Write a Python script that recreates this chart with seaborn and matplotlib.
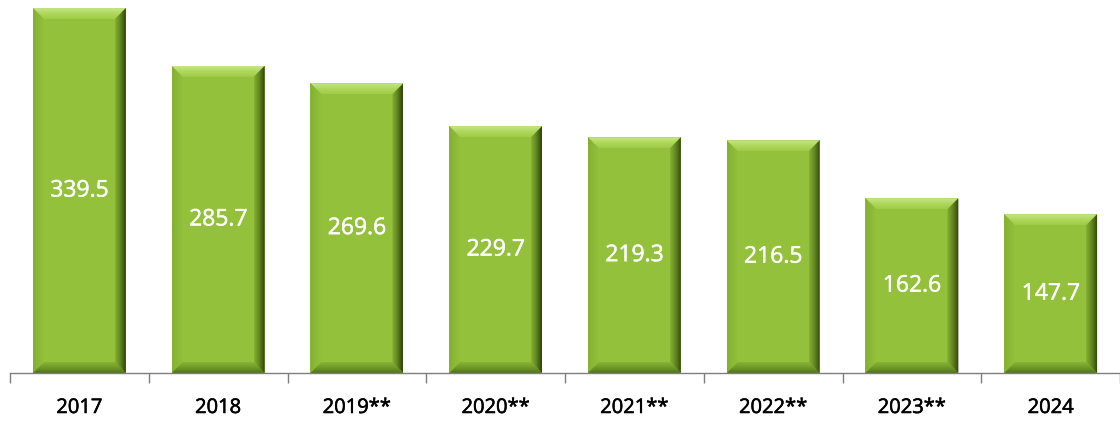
import numpy as np
import pandas as pd
import matplotlib
matplotlib.use("Agg")
import matplotlib.pyplot as plt
import matplotlib.patheffects as pe
from matplotlib.patches import Polygon
from matplotlib.colors import LinearSegmentedColormap
import seaborn as sns

years = ["2017", "2018", "2019**", "2020**", "2021**", "2022**", "2023**", "2024"]
values = [339.5, 285.7, 269.6, 229.7, 219.3, 216.5, 162.6, 147.7]

FACE = "#94c13c"

sns.set_theme(style="white")
plt.rcParams["font.family"] = ["Open Sans", "DejaVu Sans"]

fig = plt.figure(figsize=(11.2, 4.25), dpi=100)
ax = fig.add_axes([10 / 1120, 52 / 425, 1 - 10 / 1120, 373 / 425])

df = pd.DataFrame({"year": years, "value": values})
sns.barplot(data=df, x="year", y="value", color=FACE, saturation=1,
            width=0.67, ax=ax, linewidth=0, zorder=2)

ax.set_xlim(-0.5, len(years) - 0.5)
ax.set_ylim(0, 347)

# Bevelled edges on each bar, sized in pixels
fig.canvas.draw()
bev = 11.0
inv = ax.transData.inverted()


def gradient_poly(poly_pts, colors, direction):
    poly = Polygon(poly_pts, closed=True, facecolor="none", edgecolor="none", zorder=3)
    ax.add_patch(poly)
    xs = [p[0] for p in poly_pts]
    ys = [p[1] for p in poly_pts]
    cmap = LinearSegmentedColormap.from_list("b", colors)
    if direction == "h":
        grad = np.linspace(0, 1, 64).reshape(1, -1)
    else:
        grad = np.linspace(0, 1, 64).reshape(-1, 1)
    im = ax.imshow(grad, cmap=cmap, extent=(min(xs), max(xs), min(ys), max(ys)),
                   origin="lower", aspect="auto", zorder=3, interpolation="bilinear")
    im.set_clip_path(poly)


for bar in ax.patches[:len(values)]:
    x0, y0 = bar.get_x(), bar.get_y()
    x1, y1 = x0 + bar.get_width(), y0 + bar.get_height()
    (px0, py0), (px1, py1) = ax.transData.transform([(x0, y0), (x1, y1)])
    ix0, iy0 = inv.transform((px0 + bev, py0 + bev))
    ix1, iy1 = inv.transform((px1 - bev, py1 - bev))
    # top bevel (light)
    gradient_poly([(x0, y1), (x1, y1), (ix1, iy1), (ix0, iy1)],
                  ["#9fcb48", "#aed85c", "#c4e68a"], "v")
    # left bevel
    gradient_poly([(x0, y0), (ix0, iy0), (ix0, iy1), (x0, y1)],
                  ["#84b032", "#93c03c"], "h")
    # bottom bevel (darker)
    gradient_poly([(x0, y0), (x1, y0), (ix1, iy0), (ix0, iy0)],
                  ["#52721a", "#6f9a2a", "#88b434"], "v")
    # right bevel (dark)
    gradient_poly([(x1, y0), (x1, y1), (ix1, iy1), (ix1, iy0)],
                  ["#86b034", "#5f8420", "#2e420a"], "h")

# value labels
for i, v in enumerate(values):
    ax.text(i, v / 2, f"{v:.1f}", ha="center", va="center", color="white",
            fontsize=16.5, zorder=5,
            path_effects=[pe.withStroke(linewidth=0.35, foreground="white")])

# axes styling
for s in ["top", "right", "left"]:
    ax.spines[s].set_visible(False)
ax.spines["bottom"].set_color("#7f7f7f")
ax.spines["bottom"].set_linewidth(1.0)
ax.spines["bottom"].set_zorder(4)
ax.set_yticks([])
ax.set_xlabel("")
ax.set_ylabel("")
ax.set_xticks(range(len(years)))
ax.set_xticklabels(years, fontsize=14.5, color="#000000")
for lbl in ax.get_xticklabels():
    lbl.set_path_effects([pe.withStroke(linewidth=0.4, foreground="black")])
ax.set_xticks(np.arange(-0.5, len(years)), minor=True)
ax.tick_params(axis="x", which="major", length=0, pad=18)
ax.tick_params(axis="x", which="minor", length=7, width=1, color="#7f7f7f",
               direction="out", bottom=True)

fig.savefig("out.png", dpi=100)
